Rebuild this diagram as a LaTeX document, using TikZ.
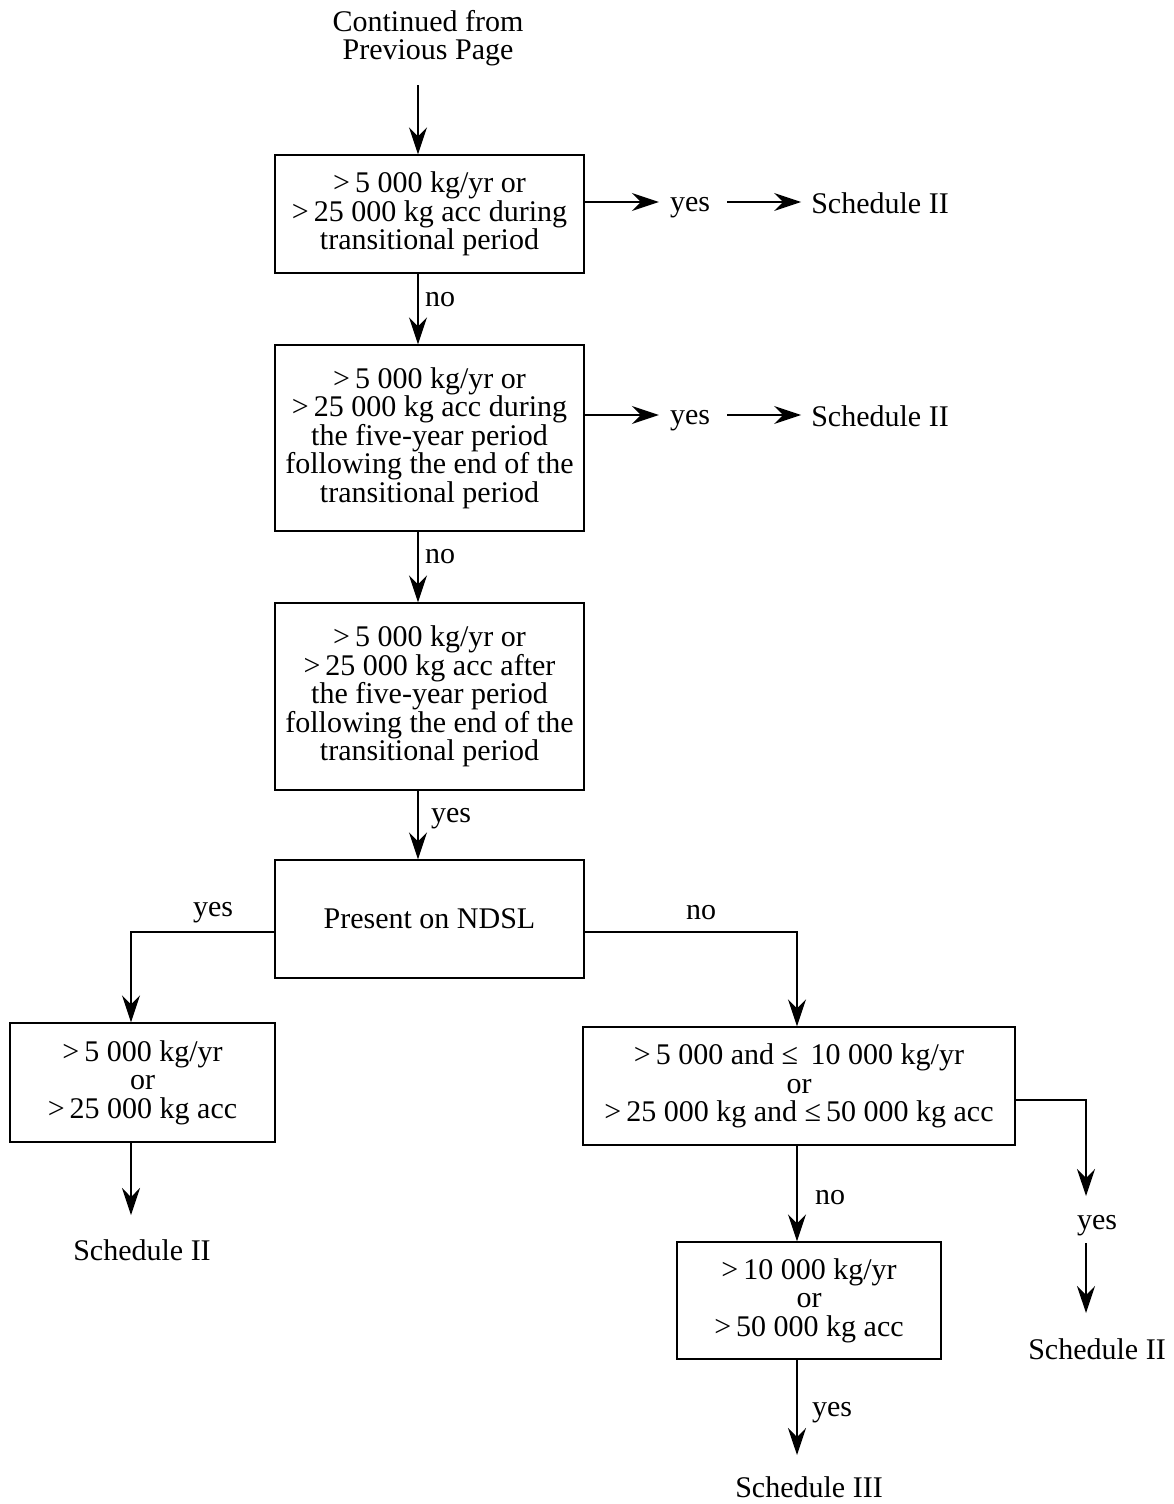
\documentclass[tikz,border=0pt]{standalone}
\usepackage{fontspec}
\setmainfont{Liberation Serif}
\usetikzlibrary{arrows.meta}
\begin{document}
\begin{tikzpicture}[x=1pt,y=-1pt,
  every node/.style={font=\fontsize{30}{28.5}\selectfont, align=center, inner sep=0pt},
  box/.style={draw, line width=1.4pt, minimum width=309pt, minimum height=118pt},
  link/.style={line width=1.4pt, -{Stealth[length=27pt,width=18pt,inset=9pt]}}]
\useasboundingbox (0,0) rectangle (1174,1504);

% column positions of the vertical connectors
\coordinate (cA) at (418,0);
\coordinate (cB) at (131,0);
\coordinate (cC) at (797,0);
\coordinate (cD) at (1086,0);
% rows of the horizontal connectors
\coordinate (r1) at (0,202);
\coordinate (r2) at (0,415);
\coordinate (r3) at (0,932);
\coordinate (r4) at (0,1100);
% free ends of connectors
\coordinate (a0) at (418,85);
\coordinate (t3) at (131,1215);
\coordinate (t6a) at (1086,1196);
\coordinate (t6b) at (1086,1243);
\coordinate (t4) at (1086,1313);
\coordinate (t5) at (797,1455);

% heading
\node (start) at (428,38) {Continued from\\Previous Page};

% decision boxes
\node[box] (b1) at (429.5,214) {>\,5 000 kg/yr or\\>\,25 000 kg acc during\\transitional period};
\node[box, minimum height=186pt] (b2) at (429.5,438) {>\,5 000 kg/yr or\\>\,25 000 kg acc during\\the five-year period\\following the end of the\\transitional period};
\node[box, minimum height=187pt] (b3) at (429.5,696.5) {>\,5 000 kg/yr or\\>\,25 000 kg acc after\\the five-year period\\following the end of the\\transitional period};
\node[box] (b4) at (429.5,919) {Present on NDSL};
\node[box, minimum width=265pt, minimum height=119pt] (b5) at (142.5,1082.5) {>\,5 000 kg/yr\\or\\>\,25 000 kg acc};
\node[box, minimum width=432pt] (b6) at (799,1086) {>\,5 000 and ≤\, 10 000 kg/yr\\or\\>\,25 000 kg and ≤\,50 000 kg acc};
\node[box, minimum width=264pt, minimum height=117pt] (b7) at (809,1300.5) {>\,10 000 kg/yr\\or\\>\,50 000 kg acc};

% outcomes and answers beside the first two boxes
\node (y1) at (690,208) {yes};
\node (s1) at (880,203) {Schedule II};
\node (y2) at (690,421) {yes};
\node (s2) at (880,416) {Schedule II};

% outcomes at the foot
\node (s3) at (142,1250) {Schedule II};
\node (y6) at (1097,1226) {yes};
\node (s4) at (1097,1349) {Schedule II};
\node (s5) at (809,1487) {Schedule III};

% branch labels
\node at (440,300) {no};
\node at (440,557) {no};
\node at (451,819) {yes};
\node at (213,913) {yes};
\node at (701,913) {no};
\node at (830,1198) {no};
\node at (832,1413) {yes};

% connectors
\draw[link] (a0) -- (b1.north -| cA);
\draw[link] (b1.east |- r1) -- ([xshift=-11pt]y1.west |- r1);
\draw[link] ([xshift=17pt]y1.east |- r1) -- ([xshift=-10pt]s1.west |- r1);
\draw[link] (b1.south -| cA) -- (b2.north -| cA);
\draw[link] (b2.east |- r2) -- ([xshift=-11pt]y2.west |- r2);
\draw[link] ([xshift=17pt]y2.east |- r2) -- ([xshift=-10pt]s2.west |- r2);
\draw[link] (b2.south -| cA) -- (b3.north -| cA);
\draw[link] (b3.south -| cA) -- (b4.north -| cA);
\draw[link] (b4.west |- r3) -| (b5.north -| cB);
\draw[link] (b4.east |- r3) -| (b6.north -| cC);
\draw[link] (b5.south -| cB) -- (t3);
\draw[link] (b6.east |- r4) -| (t6a);
\draw[link] (t6b) -- (t4);
\draw[link] (b6.south -| cC) -- (b7.north -| cC);
\draw[link] (b7.south -| cC) -- (t5);
\end{tikzpicture}
\end{document}
